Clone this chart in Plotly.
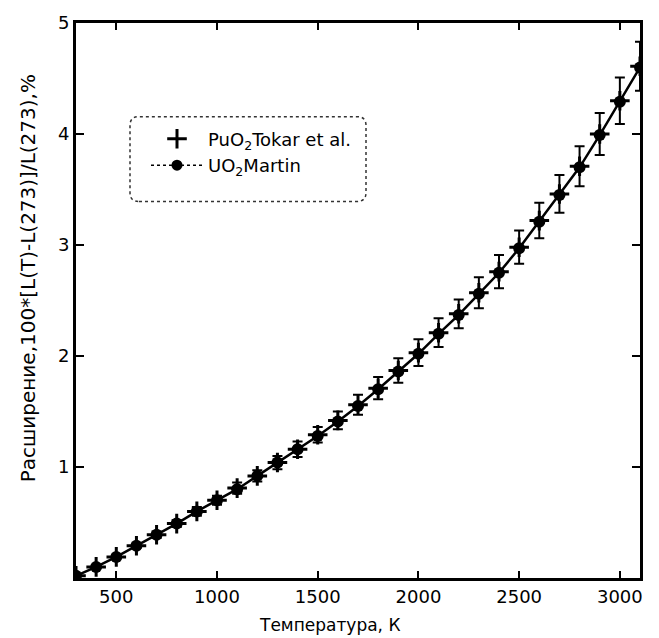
import plotly.graph_objects as go

# ---- data ----
temperature_K = [300, 400, 500, 600, 700, 800, 900, 1000, 1100, 1200,
                 1300, 1400, 1500, 1600, 1700, 1800, 1900, 2000, 2100, 2200,
                 2300, 2400, 2500, 2600, 2700, 2800, 2900, 3000, 3100]
uo2_martin = [0.02, 0.10, 0.19, 0.29, 0.39, 0.49, 0.60, 0.70, 0.80, 0.92,
              1.04, 1.16, 1.28, 1.41, 1.55, 1.70, 1.86, 2.02, 2.20, 2.37,
              2.56, 2.75, 2.97, 3.21, 3.45, 3.70, 3.99, 4.29, 4.60]
puo2_tokar = [0.02, 0.10, 0.19, 0.29, 0.39, 0.49, 0.60, 0.70, 0.81, 0.92,
              1.04, 1.16, 1.29, 1.42, 1.56, 1.71, 1.87, 2.03, 2.21, 2.38,
              2.57, 2.76, 2.98, 3.22, 3.46, 3.71, 4.00, 4.30, 4.61]
puo2_err = [0.01, 0.01, 0.02, 0.02, 0.03, 0.03, 0.04, 0.04, 0.05, 0.05,
            0.06, 0.07, 0.07, 0.08, 0.09, 0.10, 0.11, 0.12, 0.13, 0.13,
            0.14, 0.15, 0.15, 0.16, 0.17, 0.18, 0.19, 0.21, 0.22]
x_ticks = [500, 1000, 1500, 2000, 2500, 3000]
y_ticks = [1, 2, 3, 4, 5]

FONT = "DejaVu Sans"

fig = go.Figure()

fig.add_trace(go.Scatter(
    x=temperature_K, y=puo2_tokar, mode="markers",
    name="PuO<sub>2</sub>Tokar et al.",
    marker=dict(symbol="cross-thin", size=14, color="black",
                line=dict(color="black", width=3)),
    error_y=dict(type="data", array=puo2_err, visible=True,
                 color="black", thickness=2, width=5),
))

fig.add_trace(go.Scatter(
    x=temperature_K, y=uo2_martin, mode="lines+markers",
    name="UO<sub>2</sub>Martin", showlegend=False,
    line=dict(color="black", width=2.5),
    marker=dict(symbol="circle", size=12, color="black"),
))

# legend-only entry with the dotted legend line
fig.add_trace(go.Scatter(
    x=[None], y=[None], mode="lines+markers",
    name="UO<sub>2</sub>Martin",
    line=dict(color="black", width=1.5, dash="dot"),
    marker=dict(symbol="circle", size=11, color="black"),
))

L, R, T, B = 76, 19, 15, 60
W, H = 659, 638
pw, ph = W - L - R, H - T - B

def px(x):
    return (x - L) / pw

def py(y):
    return (H - B - y) / ph

# rounded dashed legend box
x0, x1, y0, y1 = px(130), px(366), py(196), py(110)
rx, ry = 9 / pw, 9 / ph
path = (f"M {x0+rx},{y0} L {x1-rx},{y0} Q {x1},{y0} {x1},{y0+ry} "
        f"L {x1},{y1-ry} Q {x1},{y1} {x1-rx},{y1} L {x0+rx},{y1} "
        f"Q {x0},{y1} {x0},{y1-ry} L {x0},{y0+ry} Q {x0},{y0} {x0+rx},{y0} Z")
fig.add_shape(type="path", path=path, xref="paper", yref="paper",
              line=dict(color="#333333", width=1.5, dash="dot"))

fig.update_layout(
    width=W, height=H,
    margin=dict(l=L, r=R, t=T, b=B),
    paper_bgcolor="white", plot_bgcolor="white",
    font=dict(family=FONT, color="black"),
    showlegend=True,
    legend=dict(x=px(146), y=py(114), xanchor="left", yanchor="top",
                bgcolor="rgba(0,0,0,0)", borderwidth=0,
                font=dict(size=18, family=FONT), tracegroupgap=0,
                itemwidth=52),
    xaxis=dict(range=[300, 3100], tickvals=x_ticks,
               ticks="inside", ticklen=7, tickwidth=1.5, tickcolor="black",
               showline=True, linecolor="black", linewidth=3, mirror="ticks",
               showgrid=False, zeroline=False,
               tickfont=dict(size=18, family=FONT)),
    yaxis=dict(range=[0, 5], tickvals=y_ticks,
               ticks="inside", ticklen=8, tickwidth=1.5, tickcolor="black",
               showline=True, linecolor="black", linewidth=3, mirror="ticks",
               showgrid=False, zeroline=False,
               tickfont=dict(size=18, family=FONT)),
    annotations=[
        dict(text="Температура, К", xref="paper", yref="paper",
             x=px(330), y=py(626), xanchor="center", yanchor="middle",
             showarrow=False, font=dict(size=17, family=FONT)),
        dict(text="Расширение,100*[L(T)-L(273)]/L(273),%", xref="paper", yref="paper",
             x=px(28), y=py(274), xanchor="center", yanchor="middle",
             textangle=-90, showarrow=False, font=dict(size=20, family=FONT)),
    ],
)

fig.write_html("out.html")
